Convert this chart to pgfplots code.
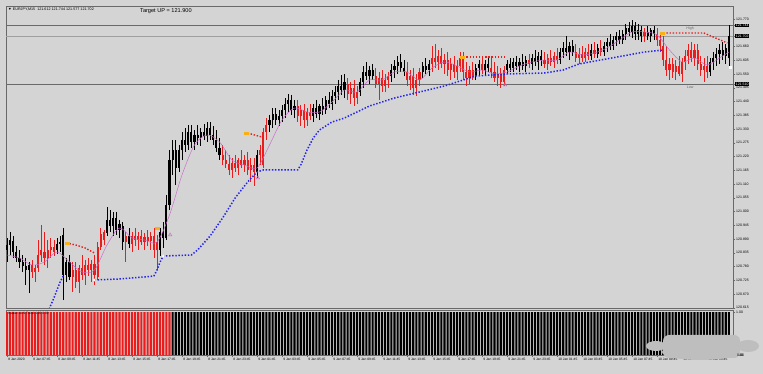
\documentclass[border=0pt]{standalone}
\usepackage{fontspec}
\setmainfont{Liberation Sans}
\usepackage{pgfplots}
\usepackage{pgfplotstable}
\pgfplotsset{compat=1.18}
\definecolor{bg}{RGB}{212,212,212}
\definecolor{frame}{RGB}{105,105,105}
\definecolor{candred}{RGB}{236,28,28}
\definecolor{supblue}{RGB}{35,35,235}
\definecolor{maviolet}{RGB}{200,105,200}
\definecolor{ymark}{RGB}{250,175,20}
\definecolor{blob}{RGB}{190,190,190}

\pgfplotstableread{
i o h l c k t
0 120.846 120.894 120.798 120.866 0 1
1 120.866 120.918 120.826 120.886 0 1
2 120.882 120.902 120.814 120.838 0 1
3 120.838 120.862 120.798 120.814 0 1
4 120.814 120.846 120.774 120.798 0 1
5 120.798 120.826 120.758 120.782 0 1
6 120.782 120.814 120.706 120.766 0 1
7 120.766 120.798 120.674 120.786 0 1
8 120.786 120.806 120.734 120.758 1 1
9 120.758 120.786 120.718 120.774 1 1
10 120.774 120.886 120.758 120.826 1 1
11 120.826 120.946 120.798 120.846 1 1
12 120.838 120.918 120.786 120.814 1 1
13 120.814 120.886 120.774 120.846 1 1
14 120.846 120.894 120.814 120.858 1 1
15 120.858 120.886 120.822 120.838 1 1
16 120.846 120.894 120.830 120.870 0 1
17 120.870 120.902 120.838 120.878 0 1
18 120.906 120.934 120.646 120.746 0 1
19 120.746 120.814 120.718 120.798 0 1
20 120.798 120.826 120.726 120.738 0 1
21 120.738 120.798 120.678 120.766 1 1
22 120.766 120.798 120.694 120.718 1 1
23 120.718 120.786 120.674 120.774 1 1
24 120.774 120.826 120.726 120.746 1 1
25 120.746 120.806 120.706 120.786 1 1
26 120.786 120.814 120.742 120.766 1 1
27 120.766 120.806 120.718 120.790 1 1
28 120.790 120.826 120.706 120.746 1 1
29 120.738 120.878 120.726 120.858 1 1
30 120.858 120.934 120.846 120.910 1 1
31 120.886 120.926 120.866 120.918 1 1
32 120.914 121.018 120.902 120.966 0 1
33 120.966 121.006 120.918 120.942 0 1
34 120.942 120.998 120.902 120.974 0 1
35 120.974 120.998 120.906 120.926 0 1
36 120.926 120.966 120.894 120.950 0 1
37 120.942 120.958 120.846 120.878 0 1
38 120.878 120.918 120.798 120.902 1 1
39 120.902 120.934 120.854 120.870 0 1
40 120.870 120.918 120.838 120.902 1 1
41 120.902 120.934 120.862 120.886 1 1
42 120.886 120.918 120.846 120.902 1 1
43 120.902 120.926 120.866 120.878 1 1
44 120.878 120.914 120.846 120.898 1 1
45 120.898 120.926 120.862 120.882 1 1
46 120.882 120.918 120.846 120.902 1 1
47 120.902 120.934 120.814 120.846 1 1
48 120.846 120.906 120.766 120.878 1 1
49 120.846 120.934 120.822 120.918 0 1
50 120.918 120.958 120.854 120.894 0 1
51 120.894 121.066 120.886 121.026 0 1
52 121.026 121.246 121.006 121.206 0 1
53 121.206 121.286 121.146 121.246 0 1
54 121.246 121.286 121.106 121.174 0 1
55 121.174 121.266 121.158 121.246 0 1
56 121.246 121.318 121.206 121.286 0 1
57 121.286 121.334 121.238 121.266 0 1
58 121.266 121.346 121.246 121.318 0 1
59 121.318 121.346 121.254 121.278 0 1
60 121.278 121.326 121.246 121.306 0 1
61 121.306 121.346 121.266 121.294 0 1
62 121.294 121.334 121.262 121.318 0 1
63 121.318 121.350 121.286 121.302 0 1
64 121.302 121.358 121.278 121.334 0 1
65 121.334 121.358 121.286 121.306 0 1
66 121.306 121.342 121.266 121.286 0 1
67 121.286 121.326 121.238 121.254 0 1
68 121.254 121.294 121.206 121.226 0 1
69 121.226 121.266 121.186 121.206 1 1
70 121.206 121.246 121.174 121.190 1 1
71 121.190 121.226 121.146 121.166 1 1
72 121.166 121.214 121.134 121.194 1 1
73 121.194 121.226 121.158 121.174 1 1
74 121.174 121.214 121.146 121.206 1 1
75 121.206 121.246 121.174 121.186 1 1
76 121.186 121.226 121.158 121.206 1 1
77 121.206 121.238 121.146 121.166 1 1
78 121.166 121.214 121.118 121.186 1 1
79 121.186 121.214 121.102 121.158 1 1
80 121.158 121.246 121.134 121.226 0 1
81 121.226 121.266 121.186 121.246 1 1
82 121.186 121.334 121.174 121.318 1 1
83 121.318 121.374 121.286 121.346 1 1
84 121.346 121.386 121.318 121.366 0 1
85 121.366 121.414 121.334 121.390 0 1
86 121.390 121.414 121.346 121.366 0 1
87 121.366 121.406 121.342 121.382 0 1
88 121.382 121.426 121.358 121.406 0 1
89 121.406 121.454 121.374 121.430 0 1
90 121.430 121.470 121.398 121.446 0 1
91 121.446 121.466 121.386 121.406 0 1
92 121.406 121.446 121.374 121.422 0 1
93 121.422 121.446 121.358 121.382 1 1
94 121.382 121.426 121.342 121.406 1 1
95 121.406 121.430 121.334 121.366 1 1
96 121.366 121.414 121.342 121.398 1 1
97 121.398 121.430 121.366 121.382 1 1
98 121.382 121.430 121.358 121.414 0 1
99 121.414 121.446 121.374 121.390 0 1
100 121.390 121.430 121.366 121.422 0 1
101 121.422 121.454 121.386 121.406 0 1
102 121.406 121.462 121.390 121.446 0 1
103 121.446 121.478 121.414 121.430 0 1
104 121.430 121.486 121.406 121.462 0 1
105 121.462 121.502 121.430 121.478 0 1
106 121.478 121.526 121.446 121.502 0 1
107 121.502 121.546 121.466 121.486 0 1
108 121.486 121.550 121.454 121.518 0 1
109 121.510 121.534 121.446 121.470 1 1
110 121.470 121.518 121.430 121.494 1 1
111 121.494 121.526 121.422 121.454 1 1
112 121.454 121.502 121.430 121.478 1 1
113 121.478 121.534 121.462 121.518 0 1
114 121.518 121.582 121.494 121.558 0 1
115 121.558 121.598 121.526 121.542 0 1
116 121.542 121.582 121.510 121.566 0 1
117 121.566 121.590 121.526 121.542 0 1
118 121.542 121.574 121.494 121.510 1 1
119 121.510 121.558 121.446 121.534 1 1
120 121.534 121.566 121.478 121.502 1 1
121 121.502 121.550 121.478 121.526 1 1
122 121.526 121.558 121.494 121.542 1 1
123 121.542 121.590 121.518 121.566 0 1
124 121.566 121.606 121.534 121.582 0 1
125 121.582 121.622 121.550 121.598 0 1
126 121.598 121.630 121.558 121.574 0 1
127 121.574 121.606 121.542 121.558 0 1
128 121.558 121.598 121.502 121.526 1 1
129 121.526 121.566 121.486 121.542 1 1
130 121.542 121.574 121.466 121.494 1 1
131 121.494 121.550 121.462 121.526 1 1
132 121.526 121.574 121.502 121.558 1 1
133 121.558 121.598 121.534 121.582 0 1
134 121.582 121.614 121.550 121.566 0 1
135 121.566 121.606 121.542 121.590 0 1
136 121.590 121.662 121.558 121.614 1 1
137 121.614 121.670 121.574 121.598 1 1
138 121.598 121.646 121.566 121.622 1 1
139 121.622 121.654 121.574 121.590 1 1
140 121.590 121.630 121.550 121.606 1 1
141 121.606 121.638 121.542 121.566 1 1
142 121.566 121.614 121.526 121.590 1 1
143 121.590 121.622 121.534 121.558 1 1
144 121.558 121.606 121.526 121.582 1 1
145 121.582 121.638 121.558 121.614 1 1
146 121.614 121.638 121.526 121.558 1 1
147 121.558 121.598 121.502 121.534 1 1
148 121.534 121.582 121.510 121.566 1 1
149 121.566 121.598 121.526 121.542 1 1
150 121.542 121.590 121.526 121.574 0 1
151 121.574 121.606 121.542 121.590 0 1
152 121.590 121.622 121.550 121.566 1 1
153 121.566 121.606 121.542 121.590 0 1
154 121.590 121.622 121.558 121.574 0 1
155 121.574 121.614 121.534 121.558 1 1
156 121.558 121.598 121.518 121.534 1 1
157 121.534 121.582 121.502 121.550 1 1
158 121.550 121.574 121.494 121.518 1 1
159 121.518 121.582 121.502 121.566 1 1
160 121.566 121.606 121.550 121.590 0 1
161 121.590 121.614 121.558 121.574 0 1
162 121.574 121.614 121.558 121.598 0 1
163 121.598 121.622 121.566 121.582 0 1
164 121.582 121.614 121.558 121.598 0 1
165 121.598 121.630 121.566 121.582 0 1
166 121.582 121.622 121.558 121.606 0 1
167 121.606 121.630 121.574 121.590 1 1
168 121.590 121.630 121.566 121.614 0 1
169 121.614 121.646 121.582 121.598 0 1
170 121.598 121.638 121.566 121.622 0 1
171 121.622 121.646 121.582 121.606 0 1
172 121.606 121.638 121.574 121.590 1 1
173 121.590 121.630 121.566 121.614 1 1
174 121.614 121.646 121.582 121.598 1 1
175 121.598 121.638 121.574 121.622 1 1
176 121.622 121.654 121.590 121.606 1 1
177 121.606 121.654 121.590 121.638 0 1
178 121.638 121.678 121.614 121.654 0 1
179 121.654 121.702 121.622 121.638 0 1
180 121.638 121.678 121.606 121.662 0 1
181 121.662 121.686 121.622 121.638 0 1
182 121.638 121.670 121.598 121.614 1 1
183 121.614 121.654 121.590 121.630 1 1
184 121.630 121.662 121.598 121.614 1 1
185 121.614 121.654 121.598 121.638 1 1
186 121.638 121.670 121.606 121.622 1 1
187 121.622 121.670 121.606 121.646 0 1
188 121.646 121.678 121.614 121.630 1 1
189 121.630 121.670 121.614 121.654 0 1
190 121.654 121.686 121.622 121.638 1 1
191 121.638 121.678 121.622 121.662 0 1
192 121.662 121.694 121.638 121.678 0 1
193 121.678 121.710 121.646 121.662 0 1
194 121.662 121.702 121.646 121.686 0 1
195 121.686 121.718 121.662 121.702 0 1
196 121.702 121.726 121.670 121.686 0 1
197 121.686 121.726 121.670 121.710 0 1
198 121.710 121.750 121.686 121.734 0 1
199 121.734 121.758 121.702 121.718 0 1
200 121.718 121.766 121.694 121.742 0 1
201 121.742 121.758 121.686 121.710 0 1
202 121.710 121.750 121.686 121.726 0 1
203 121.726 121.742 121.678 121.702 0 1
204 121.702 121.734 121.678 121.718 1 1
205 121.718 121.742 121.686 121.702 0 1
206 121.702 121.734 121.678 121.726 0 1
207 121.726 121.742 121.686 121.710 0 1
208 121.710 121.734 121.662 121.686 1 1
209 121.686 121.718 121.638 121.662 1 1
210 121.662 121.702 121.582 121.606 1 1
211 121.606 121.662 121.542 121.566 1 1
212 121.566 121.614 121.526 121.590 1 1
213 121.590 121.614 121.534 121.558 1 1
214 121.558 121.606 121.526 121.582 1 1
215 121.582 121.622 121.542 121.550 1 1
216 121.550 121.614 121.518 121.598 1 1
217 121.598 121.646 121.566 121.622 1 1
218 121.622 121.670 121.590 121.646 1 1
219 121.646 121.678 121.598 121.614 1 1
220 121.614 121.670 121.582 121.646 1 1
221 121.646 121.670 121.566 121.590 1 1
222 121.590 121.622 121.542 121.566 1 1
223 121.566 121.614 121.518 121.582 1 1
224 121.582 121.622 121.534 121.558 1 1
225 121.558 121.614 121.542 121.598 0 1
226 121.598 121.638 121.566 121.614 0 1
227 121.614 121.654 121.582 121.630 0 1
228 121.630 121.670 121.590 121.646 0 1
229 121.646 121.678 121.606 121.622 0 1
230 121.622 121.670 121.590 121.654 0 1
231 121.612 121.744 121.577 121.702 0 1
}\candles

\begin{document}
\begin{tikzpicture}
\fill[bg] (0pt,0pt) rectangle (763pt,374pt);

% ---------------- main price panel ----------------
\begin{axis}[
  at={(6pt,66pt)}, anchor=south west,
  width=727pt, height=302pt, scale only axis,
  xmin=-0.32, xmax=232.32, ymin=120.614, ymax=121.822,
  axis line style={frame, line width=0.6pt},
  xtick=\empty,
  scaled y ticks=false,
  ytick={120.615,120.670,120.725,120.780,120.835,120.890,120.945,121.000,121.055,121.110,121.165,121.220,121.275,121.330,121.385,121.440,121.495,121.550,121.605,121.660,121.770},
  yticklabels={120.615,120.670,120.725,120.780,120.835,120.890,120.945,121.000,121.055,121.110,121.165,121.220,121.275,121.330,121.385,121.440,121.495,121.550,121.605,121.660,121.770},
  ytick pos=right, yticklabel pos=right, ytick align=outside,
  major tick length=2pt,
  tick style={frame, line width=0.4pt},
  yticklabel style={font=\fontsize{3.5}{4}\selectfont, inner sep=1pt},
  extra y ticks={121.744,121.702,121.510},
  extra y tick labels={121.744,121.702,121.510},
  extra y tick style={yticklabel style={fill=black, text=white, inner sep=0.6pt, font=\fontsize{3.5}{4}\selectfont}},
]
% horizontal level lines
\addplot[frame, line width=0.6pt] coordinates {(-1,121.744)(233,121.744)};
\addplot[gray!75, line width=0.5pt] coordinates {(-1,121.702)(233,121.702)};
\addplot[frame, line width=0.6pt] coordinates {(-1,121.510)(233,121.510)};

% wicks
\addplot[black, line width=0.55pt, -, quiver={u=0, v=\thisrow{h}-\thisrow{l}},
  restrict expr to domain={\thisrow{k}}{-0.5:0.5}] table[x=i, y=l] {\candles};
\addplot[candred, line width=0.55pt, -, quiver={u=0, v=\thisrow{h}-\thisrow{l}},
  restrict expr to domain={\thisrow{k}}{0.5:1.5}] table[x=i, y=l] {\candles};
% bodies
\addplot[black, line width=2.1pt, -, quiver={u=0, v=\thisrow{c}-\thisrow{o}},
  restrict expr to domain={\thisrow{k}}{-0.5:0.5}] table[x=i, y=o] {\candles};
\addplot[candred, line width=2.1pt, -, quiver={u=0, v=\thisrow{c}-\thisrow{o}},
  restrict expr to domain={\thisrow{k}}{0.5:1.5}] table[x=i, y=o] {\candles};

% moving average (thin violet)
\addplot[maviolet, line width=0.45pt, smooth] coordinates {
(0,120.826)(4,120.814)(8,120.786)(12,120.798)(16,120.838)(20,120.798)(24,120.758)(28,120.766)
(32,120.866)(36,120.934)(40,120.894)(44,120.886)(48,120.878)(52,120.986)(56,121.146)(60,121.266)
(64,121.306)(68,121.278)(72,121.206)(76,121.186)(80,121.174)(84,121.266)(88,121.366)(92,121.414)
(96,121.398)(100,121.398)(104,121.438)(108,121.486)(112,121.478)(116,121.526)(120,121.526)
(124,121.558)(128,121.558)(132,121.526)(136,121.574)(140,121.598)(144,121.582)(148,121.558)
(152,121.566)(156,121.550)(160,121.558)(164,121.582)(168,121.598)(172,121.606)(176,121.606)
(180,121.638)(184,121.626)(188,121.634)(192,121.654)(196,121.686)(200,121.718)(204,121.718)
(208,121.706)(212,121.646)(216,121.598)(220,121.614)(224,121.586)(228,121.614)(231,121.638)};

% support (blue dotted)
\addplot[supblue, line width=1.5pt, dash pattern=on 1.4pt off 1.725pt] coordinates {
(13.5,120.610)(15,120.654)(16,120.686)(17,120.718)(18,120.742)};
\addplot[supblue, line width=1.5pt, dash pattern=on 1.4pt off 1.725pt] coordinates {
(28,120.726)(36,120.730)(44,120.738)(47,120.742)(48,120.766)(49,120.798)(50,120.822)(59,120.826)
(61,120.846)(65,120.902)(69,120.974)(73,121.054)(77,121.118)(80,121.158)(82,121.166)(93,121.166)
(94,121.186)(96,121.246)(98,121.294)(100,121.326)(102,121.342)(104,121.358)(108,121.374)
(112,121.398)(116,121.422)(120,121.438)(124,121.454)(128,121.466)(132,121.478)(136,121.490)
(140,121.502)(144,121.518)(148,121.534)(150,121.542)(160,121.550)(172,121.554)(178,121.566)
(183,121.590)(190,121.606)(197,121.622)(204,121.638)(210,121.646)};

% resistance (red dotted)
\addplot[candred, line width=1.4pt, dash pattern=on 1.4pt off 1.725pt] coordinates {
(19,120.874)(22,120.866)(25,120.854)(28,120.834)};
\addplot[candred, line width=1.4pt, dash pattern=on 1.4pt off 1.725pt] coordinates {
(77,121.314)(81.5,121.298)};
\addplot[candred, line width=1.4pt, dash pattern=on 1.4pt off 1.725pt] coordinates {
(146,121.618)(159.5,121.618)};
\addplot[candred, line width=1.4pt, dash pattern=on 1.4pt off 1.725pt] coordinates {
(210,121.714)(223,121.714)(230.5,121.674)};

% signal markers
\addplot[only marks, mark=square*, mark size=1.3pt, mark options={ymark, xscale=1.5, yscale=0.8}]
  coordinates {(19.2,120.874)(48,120.934)(76.5,121.314)(145.6,121.618)(209.6,121.714)};
\addplot[only marks, mark=triangle, mark size=2pt, mark options={maviolet, line width=0.5pt}]
  coordinates {(52.2,120.906)(80.3,121.134)(159.4,121.506)};
\addplot[only marks, mark=*, mark size=1.1pt, mark options={white, draw=white}]
  coordinates {(28,120.726)(50,120.822)};
\addplot[only marks, mark=square*, mark size=1.2pt, mark options={white, draw=white}]
  coordinates {(231.5,121.578)};

\node[anchor=south, font=\fontsize{3.6}{4}\selectfont, text=frame, inner sep=0.5pt] at (axis cs:218.6,121.724) {High};
\node[anchor=north, font=\fontsize{3.6}{4}\selectfont, text=frame, inner sep=0.5pt] at (axis cs:218.6,121.505) {Low};
\end{axis}

% ---------------- lower indicator panel ----------------
\begin{axis}[
  at={(6pt,19pt)}, anchor=south west,
  width=727pt, height=45pt, scale only axis,
  xmin=-0.32, xmax=232.32, ymin=0, ymax=1.05,
  axis line style={frame, line width=0.6pt},
  ytick={0,1}, yticklabels={0.00,1.00},
  ytick pos=right, yticklabel pos=right, ytick align=outside,
  yticklabel style={font=\fontsize{3.5}{4}\selectfont, inner sep=1pt},
  xtick={0,8,...,224},
  xticklabels={8 Jan 2020,8 Jan 07:45,8 Jan 09:45,8 Jan 11:45,8 Jan 13:45,8 Jan 15:45,8 Jan 17:45,8 Jan 19:45,8 Jan 21:45,8 Jan 23:45,9 Jan 01:45,9 Jan 03:45,9 Jan 05:45,9 Jan 07:45,9 Jan 09:45,9 Jan 11:45,9 Jan 13:45,9 Jan 15:45,9 Jan 17:45,9 Jan 19:45,9 Jan 21:45,9 Jan 23:45,10 Jan 01:45,10 Jan 03:45,10 Jan 05:45,10 Jan 07:45,10 Jan 09:45,10 Jan 11:45,10 Jan 13:45},
  xtick pos=bottom, xtick align=outside,
  major tick length=2pt,
  tick style={frame, line width=0.4pt},
  xticklabel style={anchor=north west, font=\fontsize{3.3}{4}\selectfont, inner sep=0.5pt, xshift=0.6pt, yshift=-0.5pt},
]
\addplot[ybar, bar width=2.1pt, fill=candred, draw=none, restrict x to domain=0:52.5] table[x=i, y=t] {\candles};
\addplot[ybar, bar width=2.1pt, fill=black, draw=none, restrict x to domain=52.5:240] table[x=i, y=t] {\candles};
\end{axis}

% texts
\node[anchor=west, font=\fontsize{3.7}{4}\selectfont, inner sep=0pt] at (8pt,365pt) {▼ EURJPY,M15 \ 121.612 121.744 121.577 121.702};
\node[anchor=west, font=\fontsize{5.6}{6}\selectfont, inner sep=0pt] at (140pt,363pt) {Target UP = 121.900};
\node[anchor=west, font=\fontsize{3.2}{4}\selectfont, inner sep=0pt] at (8pt,361pt) {};
\node[anchor=north west, font=\fontsize{3.2}{4}\selectfont, inner sep=0pt] at (8pt,62pt) {Heiken Ashi Trend 1.00 0.00};

% grey overlay blob (bottom right)
\fill[blob, rounded corners=6pt] (663pt,16pt) rectangle (740pt,39pt);
\fill[blob] (656pt,28pt) ellipse (10pt and 5pt);
\fill[blob] (748pt,28pt) ellipse (11pt and 6pt);
\fill[blob] (700pt,22pt) ellipse (38pt and 8pt);
\node[anchor=west, font=\fontsize{3.5}{4}\selectfont, inner sep=0pt] at (737pt,19pt) {0.00};
\end{tikzpicture}
\end{document}
